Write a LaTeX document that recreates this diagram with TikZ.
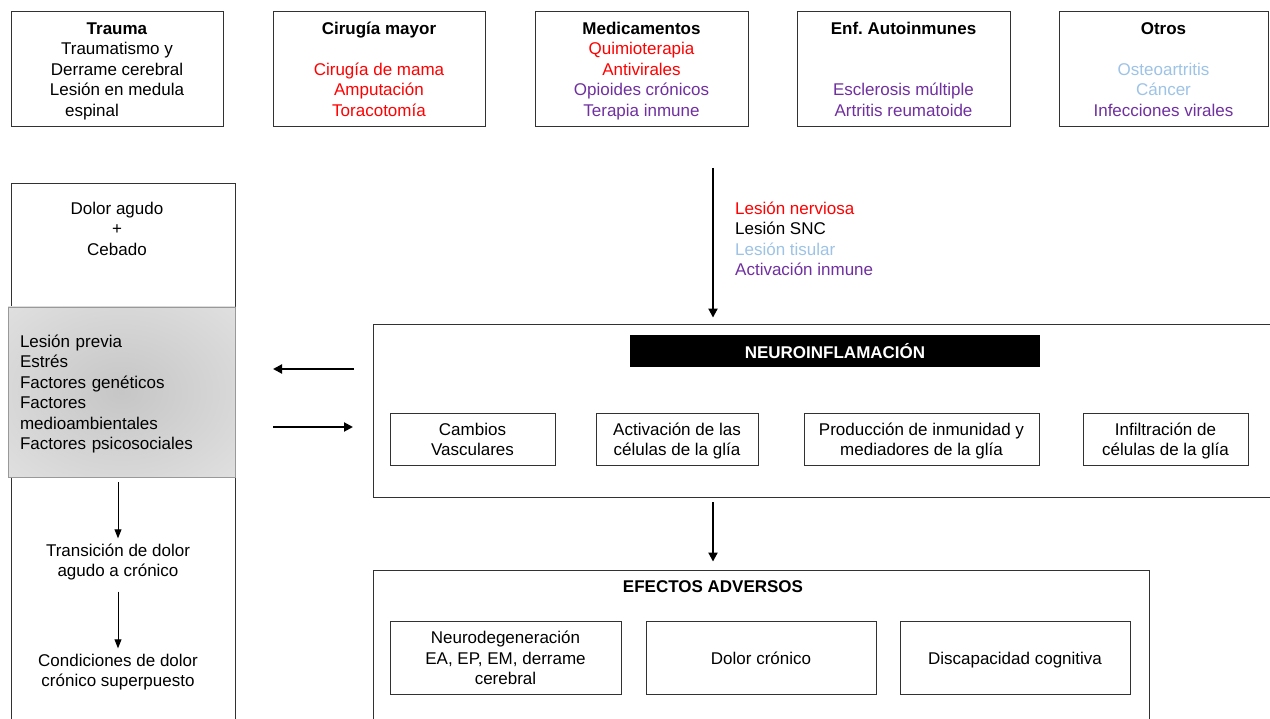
\documentclass[tikz,border=0pt]{standalone}
\usepackage{fontspec}
\setmainfont{Liberation Sans}
\usetikzlibrary{arrows.meta,calc}
\frenchspacing
\definecolor{cred}{RGB}{255,0,0}
\definecolor{cpurple}{RGB}{112,48,160}
\definecolor{cblue}{RGB}{157,195,230}
\definecolor{gin}{RGB}{198,198,198}
\definecolor{gout}{RGB}{234,234,234}
\definecolor{lineclr}{RGB}{50,50,50}
\pgfdeclareradialshading{grayglow}{\pgfpoint{0bp}{0bp}}{color(0bp)=(gin); color(50bp)=(gout)}
\newcommand{\st}{\rule[-3.6pt]{0pt}{20.5pt}}
\begin{document}
\begin{tikzpicture}[x=1pt,y=-1pt,
  box/.style={draw=lineclr, line width=0.9pt, inner sep=0pt, align=center, font=\fontsize{17}{20.5}\selectfont},
  txt/.style={align=center, inner sep=0pt, font=\fontsize{17}{20.5}\selectfont},
  bigarrow/.style={line width=2pt, -{Triangle[width=9pt,length=9pt]}},
  smallarrow/.style={line width=0.9pt, -{Triangle[width=7pt,length=9pt]}}]
\useasboundingbox (0,0) rectangle (1270,719);
\clip (0,0) rectangle (1270,719);
\fill[white] (0,0) rectangle (1270,719);

% top category boxes
\node[box, minimum width=212pt, minimum height=115pt] (trauma) at (117,68.5)
  {\st\textbf{Trauma}\\Traumatismo y\\Derrame cerebral\\Lesión en medula\\\hspace*{-50pt}espinal\st};
\node[box, minimum width=212pt, minimum height=115pt] (cirugia) at (379,68.5)
  {\st\textbf{Cirugía mayor}\\\mbox{}\\\textcolor{cred}{Cirugía de mama}\\\textcolor{cred}{Amputación}\\\textcolor{cred}{Toracotomía}\st};
\node[box, minimum width=213pt, minimum height=115pt] (medic) at (641.5,68.5)
  {\st\textbf{Medicamentos}\\\textcolor{cred}{Quimioterapia}\\\textcolor{cred}{Antivirales}\\\textcolor{cpurple}{Opioides crónicos}\\\textcolor{cpurple}{Terapia inmune}\st};
\node[box, minimum width=213pt, minimum height=115pt] (autoinm) at (903.5,68.5)
  {\st\textbf{Enf.\ Autoinmunes}\\\mbox{}\\\mbox{}\\\textcolor{cpurple}{Esclerosis múltiple}\\\textcolor{cpurple}{Artritis reumatoide}\st};
\node[box, minimum width=209pt, minimum height=115pt] (otros) at (1163.5,68.5)
  {\st\textbf{Otros}\\\mbox{}\\\textcolor{cblue}{Osteoartritis}\\\textcolor{cblue}{Cáncer}\\\textcolor{cpurple}{Infecciones virales}\st};

% left column
\node[box, minimum width=224pt, minimum height=557pt] (leftbox) at (123,461.5) {};
\node[txt] (agudo) at (117,228) {\st Dolor agudo\\+\\Cebado\st};
\node[draw=black!40, line width=0.6pt, shading=grayglow, minimum width=227pt, minimum height=170pt,
      inner xsep=12pt, inner ysep=0pt, text width=203pt, align=left,
      font=\fontsize{17}{20.5}\selectfont] (factors) at (121.5,392)
  {\st Lesión previa\\Estrés\\Factores genéticos\\Factores\\medioambientales\\Factores psicosociales\st};
\node[txt] (trans) at (118,560) {\st Transición de dolor\\agudo a crónico\st};
\node[txt] (cond) at (118,670) {\st Condiciones de dolor\\crónico superpuesto\st};
\draw[smallarrow, shorten <=5pt, shorten >=1pt] (factors.south -| trans.north) -- (trans.north);
\draw[smallarrow, shorten <=11pt, shorten >=1pt] (trans.south) -- (cond.north);

% neuroinflammation
\node[box, minimum width=903pt, minimum height=173pt] (neuro) at (824.5,410.5) {};
\node[fill=black, minimum width=410pt, minimum height=32pt, inner sep=0pt, text=white,
      font=\fontsize{17}{20.5}\selectfont\bfseries] (neurotitle) at (835,351) {NEUROINFLAMACIÓN};
\node[box, minimum width=165pt, minimum height=52pt] (vasc) at (472.5,439) {\st Cambios\\Vasculares\st};
\node[box, minimum width=162pt, minimum height=52pt] (glia) at (677,439) {\st Activación de las\\células de la glía\st};
\node[box, minimum width=235pt, minimum height=52pt] (prod) at (921.5,439) {\st Producción de inmunidad y\\mediadores de la glía\st};
\node[box, minimum width=165pt, minimum height=52pt] (infil) at (1165.5,439) {\st Infiltración de\\células de la glía\st};

% incoming arrow with labels
\coordinate (srcTop) at (713,168);
\draw[bigarrow, shorten >=6pt] (srcTop) -- (srcTop |- neuro.north);
\node[txt, align=left, anchor=west] (lesion) at (735,238.5)
  {\st\textcolor{cred}{Lesión nerviosa}\\Lesión SNC\\\textcolor{cblue}{Lesión tisular}\\\textcolor{cpurple}{Activación inmune}\st};

% horizontal arrows
\coordinate (fbStart) at (354,369);
\coordinate (fbEnd) at (273,369);
\coordinate (ffStart) at (273,427);
\coordinate (ffEnd) at (353,427);
\draw[bigarrow] (fbStart) -- (fbEnd);
\draw[bigarrow] (ffStart) -- (ffEnd);

% adverse effects
\node[box, minimum width=776pt, minimum height=170pt] (efectos) at (761,655) {};
\node[txt, font=\fontsize{17}{20.5}\selectfont\bfseries] (eftitle) at (713,586) {\st EFECTOS ADVERSOS};
\node[box, minimum width=231pt, minimum height=73pt] (neurodeg) at (505.5,657.5) {\st Neurodegeneración\\EA, EP, EM, derrame\\cerebral\st};
\node[box, minimum width=230pt, minimum height=73pt] (dolor) at (761,657.5) {\st Dolor crónico};
\node[box, minimum width=230pt, minimum height=73pt] (disc) at (1015,657.5) {\st Discapacidad cognitiva};

\draw[bigarrow, shorten <=5pt, shorten >=8pt] (neuro.south -| srcTop) -- (efectos.north -| srcTop);
\end{tikzpicture}
\end{document}
